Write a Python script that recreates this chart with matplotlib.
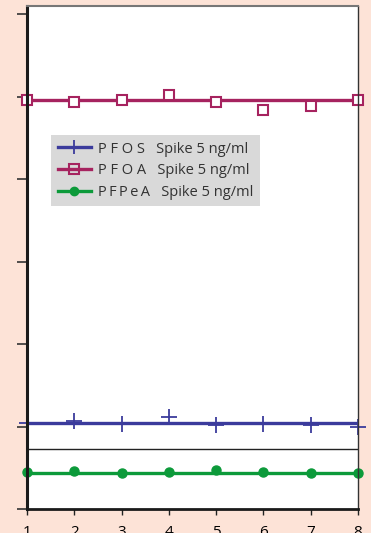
import matplotlib.pyplot as plt

# sample index on the x axis
runs = [1, 2, 3, 4, 5, 6, 7, 8]

# measured values (arbitrary y units, one y tick = 1)
pfos = [1.04, 1.067, 1.027, 1.111, 1.018, 1.027, 1.018, 0.998]
pfoa = [4.954, 4.930, 4.954, 5.015, 4.930, 4.840, 4.893, 4.954]
pfpea = [0.445, 0.461, 0.433, 0.448, 0.469, 0.448, 0.440, 0.433]

# mean level lines drawn through each series
pfos_mean = 1.039
pfoa_mean = 4.958
pfpea_mean = 0.433

labels = ["P F O S   Spike 5 ng/ml", "P F O A   Spike 5 ng/ml",
          "P\u2009F\u2009P\u2009e\u2009A   Spike 5 ng/ml"]
c_pfos = "#3b3b9c"
c_pfoa = "#a6235f"
c_pfpea = "#0c9a3a"

plt.rcParams['font.family'] = ['Open Sans', 'DejaVu Sans']

fig = plt.figure(figsize=(3.71, 5.33), dpi=100)
fig.patch.set_facecolor("#fde3d7")
ax = fig.add_axes([27/371, 1-509/533, 331/371, 503/533])

# fitted lines
ax.plot(runs, [pfos_mean]*len(runs), color=c_pfos, lw=2.4, solid_capstyle='butt')
ax.plot(runs, [pfoa_mean]*len(runs), color=c_pfoa, lw=2.4, solid_capstyle='butt')
ax.plot(runs, [pfpea_mean]*len(runs), color=c_pfpea, lw=2.4, solid_capstyle='butt')

# the points
ax.plot(runs, pfos, ls='none', marker='+', ms=11, mew=1.3, color=c_pfos, clip_on=False)
ax.plot(runs, pfoa, ls='none', marker='s', ms=7.5, mew=1.5, mfc='white', mec=c_pfoa, clip_on=False)
ax.plot(runs, pfpea, ls='none', marker='o', ms=6.5, color=c_pfpea, clip_on=False)

# legend proxies
h1, = ax.plot([], [], color=c_pfos, lw=2.4, marker='+', ms=10, mew=1.3)
h2, = ax.plot([], [], color=c_pfoa, lw=2.4, marker='s', ms=6.5, mew=1.5, mfc='none', mec=c_pfoa)
h3, = ax.plot([], [], color=c_pfpea, lw=2.4, marker='o', ms=6)
leg = ax.legend([h1, h2, h3], labels, loc='upper left', bbox_to_anchor=(0.0725, 0.7435),
                frameon=True, fancybox=False, facecolor='#d9d9d9', edgecolor='none',
                framealpha=1, fontsize=10.5, handlelength=2.3, handletextpad=0.45,
                labelspacing=0.45, borderpad=0.45, borderaxespad=0)
for t in leg.get_texts():
    t.set_color('#333333')

ax.axhline(0.727, color='#222222', lw=1.0)

ax.set_xlim(1, 8)
ax.set_ylim(0, 6.1)
ax.set_xticks(runs)
ax.set_yticks([0, 1, 2, 3, 4, 5, 6])
ax.set_yticklabels([])
ax.tick_params(axis='y', direction='out', length=7, width=1.2, color='#333333')
ax.tick_params(axis='x', direction='out', length=4.5, width=1.0, labelsize=11, pad=7, color='#222222')

ax.spines['left'].set_linewidth(2.2)
ax.spines['left'].set_color('#1a1a1a')
ax.spines['bottom'].set_linewidth(2.0)
ax.spines['bottom'].set_color('#1a1a1a')
ax.spines['top'].set_linewidth(1.5)
ax.spines['top'].set_color('#777777')
ax.spines['right'].set_linewidth(1.0)
ax.spines['right'].set_color('#333333')

fig.savefig("out.png", dpi=100, facecolor=fig.get_facecolor())
